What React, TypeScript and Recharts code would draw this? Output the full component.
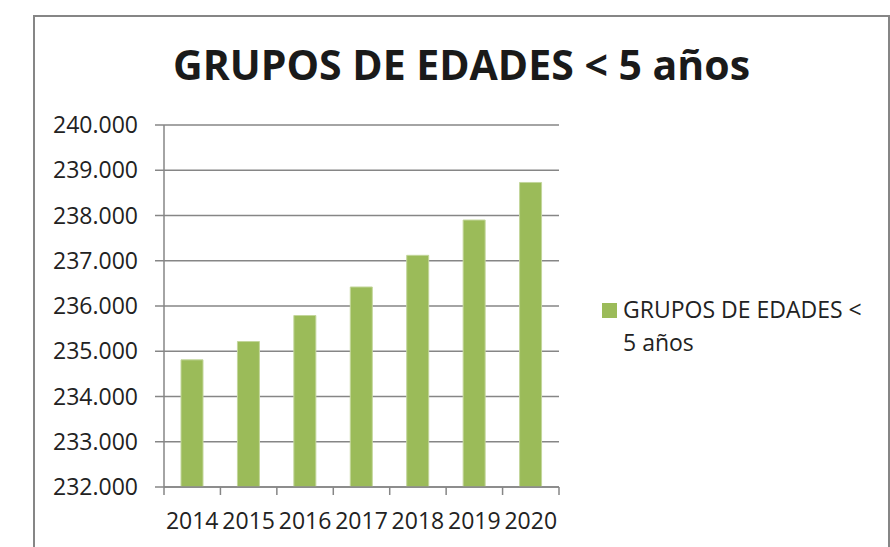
import { BarChart, Bar, XAxis, YAxis, CartesianGrid } from 'recharts'

const years = ['2014', '2015', '2016', '2017', '2018', '2019', '2020']
const menores5 = [234810, 235215, 235790, 236420, 237120, 237900, 238730]
const yTicks = [232000, 233000, 234000, 235000, 236000, 237000, 238000, 239000, 240000]
const seriesName = 'GRUPOS DE EDADES < 5 años'

const data = years.map((y, i) => ({ year: y, value: menores5[i] }))

const FONT = '"Open Sans", sans-serif'
const GREY = '#868686'
const GREEN = '#9BBB59'

// 240000 -> "240.000"
const fmt = (v: number) => String(v).replace(/\B(?=(\d{3})+(?!\d))/g, '.')

function YearTick(props: any) {
  const { x, y, payload, index } = props
  const half = payload?.offset ?? 28.2
  return (
    <g>
      <line x1={x - half} y1={y} x2={x - half} y2={y + 8} stroke={GREY} strokeWidth={1.5} />
      {index === years.length - 1 && (
        <line x1={x + half} y1={y} x2={x + half} y2={y + 8} stroke={GREY} strokeWidth={1.5} />
      )}
      <text x={x} y={y + 42} textAnchor="middle" fill="#222" fontSize={23} fontFamily={FONT}>
        {payload.value}
      </text>
    </g>
  )
}

export default function App() {
  return (
    <div style={{ position: 'absolute', left: 0, top: 0, width: 890, height: 547, background: '#fff', overflow: 'hidden' }}>
      {/* chart frame */}
      <div style={{ position: 'absolute', left: 33, top: 15, width: 853, height: 600, border: `2px solid ${GREY}` }} />
      <div
        style={{
          position: 'absolute', left: 33, top: 44, width: 857, textAlign: 'center',
          fontFamily: FONT, fontWeight: 700, fontSize: 41, lineHeight: '40px', color: '#1a1a1a',
        }}
      >
        {seriesName}
      </div>
      <div style={{ position: 'absolute', left: 0, top: 0 }}>
        <BarChart width={890} height={547} data={data} margin={{ top: 125, right: 331, left: 64, bottom: 0 }}>
          <CartesianGrid vertical={false} stroke={GREY} strokeWidth={1.5} />
          <XAxis
            dataKey="year"
            axisLine={{ stroke: GREY, strokeWidth: 1.5 }}
            tickLine={false}
            tickSize={0}
            tickMargin={0}
            interval={0}
            height={60}
            tick={<YearTick />}
          />
          <YAxis
            domain={[232000, 240000]}
            ticks={yTicks}
            allowDataOverflow
            width={100}
            tickFormatter={fmt}
            axisLine={{ stroke: GREY, strokeWidth: 1.5 }}
            tickLine={{ stroke: GREY, strokeWidth: 1.5 }}
            tickSize={9}
            tickMargin={17}
            tick={{ fill: '#222', fontSize: 23, fontFamily: FONT }}
          />
          <Bar dataKey="value" name={seriesName} fill={GREEN} stroke="#C3D69B" strokeWidth={1} barSize={22} isAnimationActive={false} />
        </BarChart>
      </div>
      {/* legend */}
      <div style={{ position: 'absolute', left: 602, top: 293, display: 'flex', alignItems: 'flex-start', fontFamily: FONT, fontSize: 23, color: '#222' }}>
        <span style={{ display: 'inline-block', width: 15, height: 15, background: GREEN, marginTop: 10, marginRight: 6, flex: 'none' }} />
        <span style={{ width: 245, lineHeight: '33px' }}>{seriesName}</span>
      </div>
    </div>
  )
}
